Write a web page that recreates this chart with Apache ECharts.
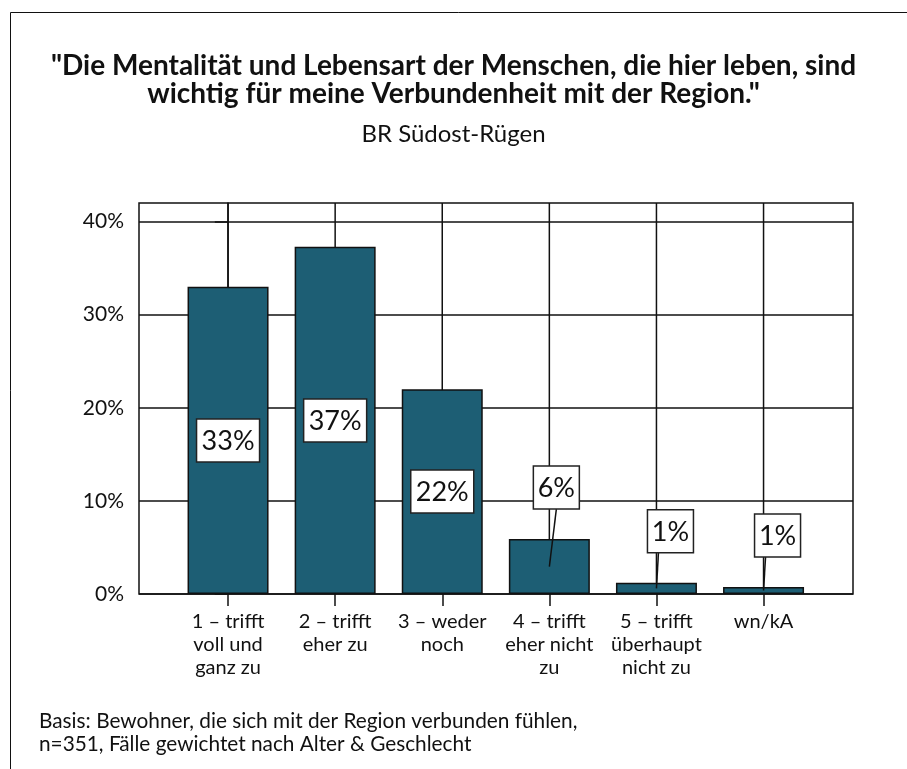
<!DOCTYPE html>
<html><head><meta charset="utf-8">
<script src="https://cdn.jsdelivr.net/npm/echarts@6/dist/echarts.min.js"></script>
<style>html,body{margin:0;padding:0;background:#fff}#c{width:907px;height:769px}</style>
</head><body><div id="c"></div>
<script>
// ---- data ----
const titleLines = ['"Die Mentalität und Lebensart der Menschen, die hier leben, sind', 'wichtig für meine Verbundenheit mit der Region."'];
const subtitle = 'BR Südost-Rügen';
const categories = ['1 – trifft\nvoll und\nganz zu', '2 – trifft\neher zu', '3 – weder\nnoch', '4 – trifft\neher nicht\nzu', '5 – trifft\nüberhaupt\nnicht zu', 'wn/kA'];
const values = [33.0, 37.3, 22.0, 5.9, 1.2, 0.75];
const yTicks = [0, 10, 20, 30, 40];
const footnoteLines = ['Basis: Bewohner, die sich mit der Region verbunden fühlen,', 'n=351, Fälle gewichtet nach Alter & Geschlecht'];

// ---- styles ----
const FONT = 'Lato';
const INK = '#111';
const BAR = '#1d5e74';
const LW = 1.5;
const Y_MAX = 42;

const chart = echarts.init(document.getElementById('c'), null, {renderer: 'canvas'});

function renderGridLine(params, api) {
  const i = api.value(0);
  const p0 = api.coord([i, 0]);
  const p1 = api.coord([i, Y_MAX]);
  return {type: 'line', shape: {x1: p0[0], y1: p0[1], x2: p1[0], y2: p1[1]},
    style: {stroke: INK, lineWidth: LW}};
}

function renderLabel(params, api) {
  const i = api.value(0), v = api.value(1);
  const top = api.coord([i, v]);
  const mid = api.coord([i, v / 2]);
  const txt = Math.round(v) + '%';
  const w = txt.length > 2 ? 63 : 46, h = 43;
  const children = [];
  let cx, cy;
  if (v >= 10) {
    cx = mid[0]; cy = mid[1];
  } else {
    const dx = v >= 3 ? 7 : 14;
    cx = mid[0] + dx;
    cy = top[1] - 30 - h / 2;
    const sx = v >= 3 ? cx : mid[0] + 2;
    children.push({type: 'line', shape: {x1: sx, y1: cy + h / 2, x2: mid[0], y2: mid[1]},
      style: {stroke: INK, lineWidth: LW}});
  }
  children.push({type: 'rect', shape: {x: cx - w / 2, y: cy - h / 2, width: w, height: h},
    style: {fill: '#fff', stroke: '#222', lineWidth: LW}});
  children.push({type: 'text', style: {text: txt, x: cx, y: cy + 1, align: 'center', verticalAlign: 'middle',
    fontFamily: FONT, fontSize: 27, fill: INK}});
  return {type: 'group', children};
}

const option = {
  animation: false,
  backgroundColor: '#fff',
  title: [
    {text: titleLines.join('\n'), left: 'center', top: 52, padding: 0,
     textStyle: {fontFamily: FONT, fontWeight: 'bold', fontSize: 28, lineHeight: 28, color: INK}},
    {text: subtitle, left: 'center', top: 122, padding: 0,
     textStyle: {fontFamily: FONT, fontWeight: 'normal', fontSize: 24, color: INK}},
    {text: footnoteLines.join('\n'), left: 39, top: 710, padding: 0,
     textStyle: {fontFamily: FONT, fontWeight: 'normal', fontSize: 20.8, lineHeight: 23, color: INK}}
  ],
  graphic: [
    {type: 'line', shape: {x1: 10.5, y1: 12.5, x2: 907, y2: 12.5}, style: {stroke: INK, lineWidth: 1}},
    {type: 'line', shape: {x1: 10.5, y1: 12.5, x2: 10.5, y2: 769}, style: {stroke: INK, lineWidth: 1}}
  ],
  grid: [
    {left: 139, right: 54, top: 203, bottom: 175, show: true, borderColor: INK, borderWidth: LW, backgroundColor: 'transparent'},
    {left: 174.5, right: 89.9, top: 203, bottom: 175}
  ],
  xAxis: [
    {gridIndex: 0, type: 'value', min: -0.83, max: 5.84, show: false},
    {gridIndex: 1, type: 'category', data: categories,
     axisLine: {show: false},
     axisTick: {show: true, alignWithLabel: true, length: 12, lineStyle: {color: INK, width: LW}},
     axisLabel: {fontFamily: FONT, fontSize: 20, lineHeight: 23, color: INK, margin: 16, interval: 0},
     splitLine: {show: false}}
  ],
  yAxis: [
    {gridIndex: 0, type: 'value', min: 0, max: Y_MAX, interval: 10,
     axisLine: {show: true, lineStyle: {color: INK, width: LW}},
     axisTick: {show: true, length: 13, customValues: yTicks, lineStyle: {color: INK, width: LW}},
     axisLabel: {customValues: yTicks, formatter: '{value}%', fontFamily: FONT, fontSize: 21, color: INK, margin: 15},
     splitLine: {show: true, lineStyle: {color: INK, width: LW}}},
    {gridIndex: 1, type: 'value', min: 0, max: Y_MAX, show: false}
  ],
  series: [
    {type: 'custom', xAxisIndex: 1, yAxisIndex: 1, z: 1, silent: true,
     data: categories.map((c, i) => [i, 0]), renderItem: renderGridLine},
    {type: 'bar', xAxisIndex: 1, yAxisIndex: 1, data: values, barWidth: 81, z: 5,
     itemStyle: {color: BAR, borderColor: INK, borderWidth: LW}},
    {type: 'custom', xAxisIndex: 1, yAxisIndex: 1, z: 10,
     data: values.map((v, i) => [i, v]), renderItem: renderLabel}
  ]
};
chart.setOption(option);
</script></body></html>
